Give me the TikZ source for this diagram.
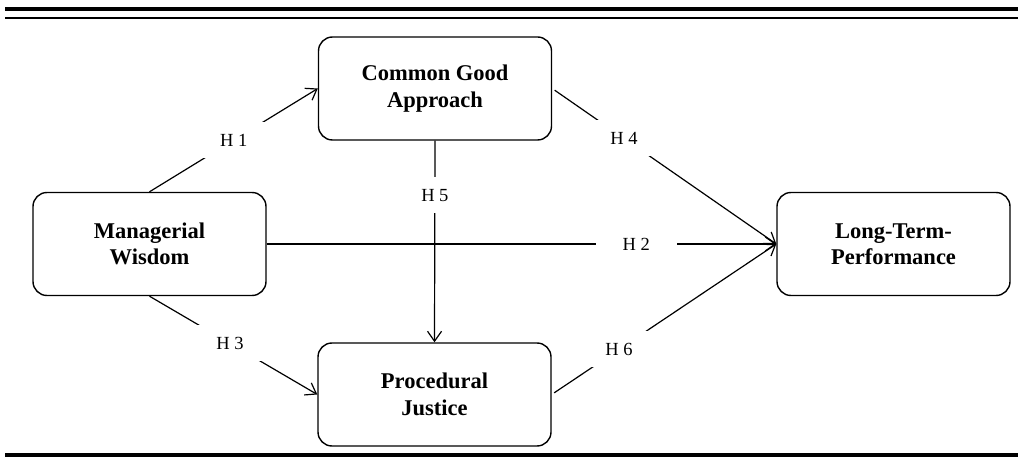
\documentclass[tikz,border=0pt]{standalone}
\usepackage{fontspec}
\setmainfont{Liberation Serif}
\usetikzlibrary{arrows.meta}
\begin{document}
\begin{tikzpicture}[x=1pt,y=-1pt,
  box/.style={draw, line width=1.4pt, rounded corners=14pt, minimum width=233pt,
    minimum height=103pt, align=center, inner sep=0pt,
    font=\fontsize{22.5}{26.5}\selectfont\bfseries},
  conn/.style={line width=1.2pt, -{Straight Barb[length=10pt,width=14pt,line width=1.2pt]}},
  hlab/.style={fill=white, minimum width=81pt, minimum height=36pt, inner sep=0pt,
    font=\fontsize{18.5}{20}\selectfont}]
\useasboundingbox (0,0) rectangle (1018,462);
% rules
\draw[line width=4.3pt] (5,9) -- (1018,9);
\draw[line width=2.6pt] (5,18) -- (1018,18);
\draw[line width=3.5pt] (5,455) -- (1018,455);
% boxes
\node[box] (cg) at (435,88.5) {Common Good\\Approach};
\node[box] (mw) at (149.5,244) {Managerial\\Wisdom};
\node[box] (pj) at (434.5,394.5) {Procedural\\Justice};
\node[box] (lt) at (893.5,244) {Long-Term-\\Performance};
% connectors
\draw[conn] (mw.north) -- node[hlab,pos=0.5]{H 1} (cg.west);
\draw[conn] (mw.east) -- node[hlab,pos=0.725]{H 2} (lt.west);
\draw[conn] (mw.south) -- node[hlab,pos=0.48]{H 3} (pj.west);
\draw[conn, shorten <=3pt] (cg.east) -- node[hlab,pos=0.32]{H 4} (lt.west);
\draw[conn] (cg.south) -- node[hlab,pos=0.27]{H 5} (pj.north);
\draw[conn, shorten <=3pt] (pj.east) -- node[hlab,pos=0.30]{H 6} (lt.west);
\end{tikzpicture}
\end{document}
